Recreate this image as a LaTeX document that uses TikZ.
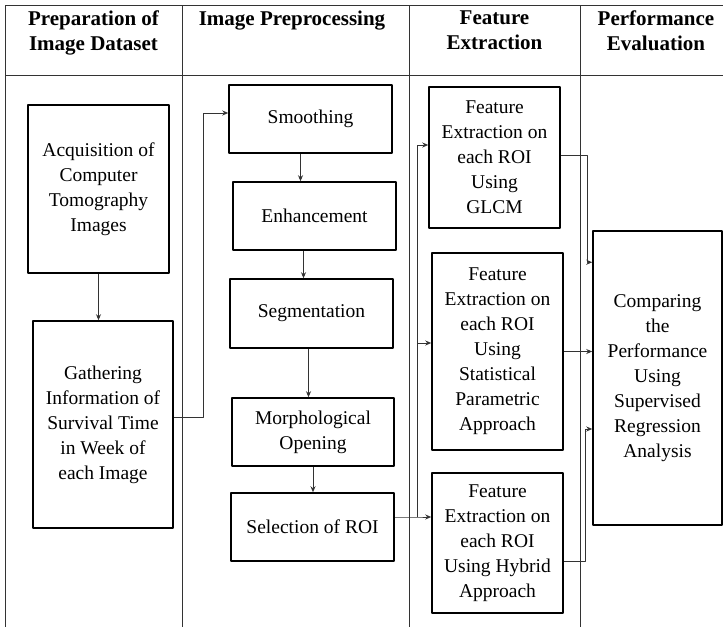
\documentclass[tikz,border=0pt]{standalone}
\usepackage{fontspec}
\setmainfont{Liberation Serif}
\usetikzlibrary{arrows.meta}
\begin{document}
\begin{tikzpicture}[x=1pt,y=-1pt, line join=round, >={Stealth[length=6pt,width=5pt]},
	box/.style={draw, line width=1.5pt, align=center, inner sep=0pt, font=\fontsize{19.5}{25}\selectfont},
	head/.style={anchor=north, align=center, inner sep=0pt, font=\fontsize{21}{25}\selectfont\bfseries},
	grid/.style={draw=black!80, line width=0.8pt},
	link/.style={->, draw=black!80, line width=0.9pt}]
	\useasboundingbox (0,0) rectangle (723,627);
	% table
	\draw[grid] (5,5)--(723,5) (5,75)--(723,75);
	\foreach \x in {5,182,409,580}{
		\draw[grid] (\x,5)--(\x,627);}
	\node[head] (hprep) at (93.5,11) {Preparation of\\Image Dataset};
	\node[head] (hpre) at (292,11) {Image Preprocessing};
	\node[head] (hfeat) at (494.5,11) {Feature\\Extraction};
	\node[head] (hperf) at (656,11) {Performance\\Evaluation};
	% boxes
	\node[box, minimum width=141, minimum height=168] (acq) at (98.5,189) {Acquisition of\\Computer\\Tomography\\Images};
	\node[box, minimum width=140, minimum height=207] (gat) at (103,424.5) {Gathering\\Information of\\Survival Time\\in Week of\\each Image};
	\node[box, minimum width=163, minimum height=68] (smo) at (310.5,119) {Smoothing};
	\node[box, minimum width=163, minimum height=68] (enh) at (314.5,216) {Enhancement};
	\node[box, minimum width=163, minimum height=69] (seg) at (311.5,313.5) {Segmentation};
	\node[box, minimum width=162, minimum height=68] (mor) at (313,432) {Morphological\\Opening};
	\node[box, minimum width=163, minimum height=68] (sel) at (312.5,527) {Selection of ROI};
	\node[box, minimum width=131, minimum height=141] (glcm) at (494.5,157.5) {Feature\\Extraction on\\each ROI\\Using\\GLCM};
	\node[box, minimum width=131, minimum height=197] (sta) at (497.5,351.5) {Feature\\Extraction on\\each ROI\\Using\\Statistical\\Parametric\\Approach};
	\node[box, minimum width=131, minimum height=140] (hyb) at (497.5,543) {Feature\\Extraction on\\each ROI\\Using Hybrid\\Approach};
	\node[box, minimum width=129, minimum height=294] (cmp) at (657.5,378) {Comparing\\the\\Performance\\Using\\Supervised\\Regression\\Analysis};
	% connectors
	\draw[link] (acq.south)--(acq.south |- gat.north);
	\draw[link] ([yshift=7]gat.east)--++(30,0) |- ([yshift=6]smo.west);
	\draw[link] ([xshift=-10]smo.south)--([xshift=-10]smo.south |- enh.north);
	\draw[link] ([xshift=-11]enh.south)--([xshift=-11]enh.south |- seg.north);
	\draw[link] ([xshift=-3]seg.south)--([xshift=-3]seg.south |- mor.north);
	\draw[link] (mor.south)--(mor.south |- sel.north);
	\draw[link] ([yshift=10]sel.east)--++(23,0) coordinate (fork)--([yshift=10]sel.east -| hyb.west);
	\draw[link] (fork) |- ([yshift=12.5]glcm.west);
	\draw[link] (fork) |- ([yshift=8.5]sta.west);
	\draw[link] ([yshift=2.5]glcm.east)--++(27,0) |- ([yshift=-32]cmp.north west);
	\draw[link] (sta.east)--(sta.east -| cmp.west);
	\draw[link] ([yshift=-18]hyb.east)--++(22,0) |- ([yshift=-51]cmp.west);
\end{tikzpicture}
\end{document}
